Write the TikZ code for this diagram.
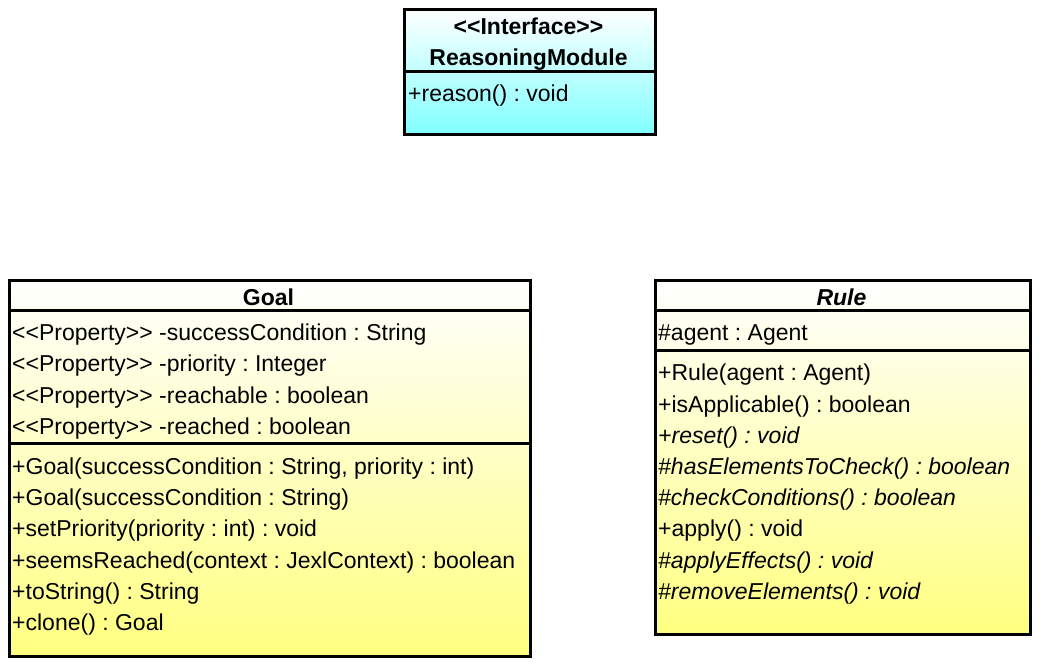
\documentclass[tikz,border=0pt]{standalone}
\usepackage{fontspec}
\setmainfont{Liberation Sans}[Ligatures=TeXOff]
\frenchspacing
\definecolor{ifacefill}{RGB}{128,255,255}
\definecolor{classfill}{RGB}{255,255,128}
\newcommand{\stereo}[1]{<<#1>>}
\tikzset{
  classbox/.style={draw, line width=3pt, inner sep=0pt, anchor=north west, top color=white},
  member/.style={anchor=base west, inner sep=0pt, font=\fontsize{23}{27}\selectfont},
  abstract/.style={member, font=\fontsize{23}{27}\selectfont\itshape},
  title/.style={anchor=base, inner sep=0pt, font=\fontsize{23}{27}\selectfont\bfseries},
  sep/.style={line width=3pt}
}
\begin{document}
\begin{tikzpicture}[x=1pt,y=-1pt]
\useasboundingbox (0,0) rectangle (1042,667);
% interface
\node[classbox, bottom color=ifacefill, minimum width=251pt, minimum height=125pt] (iface) at (403,8) {};
\draw[sep] (iface.west |- 0,71) -- (iface.east |- 0,71);
\node[title] (ifacest) at (528.5,34) {\stereo{Interface}};
\node[title] (ifacename) at (528.5,65) {ReasoningModule};
\node[member] (reason) at (408,101) {+reason() : void};
% goal
\node[classbox, bottom color=classfill, minimum width=521pt, minimum height=376pt] (goal) at (8,279) {};
\draw[sep] (goal.west |- 0,310) -- (goal.east |- 0,310);
\draw[sep] (goal.west |- 0,443) -- (goal.east |- 0,443);
\node[title] (goalname) at (268.5,305) {Goal};
\node[member] (g1) at (12,340) {\stereo{Property} -successCondition : String};
\node[member] (g2) at (12,371) {\stereo{Property} -priority : Integer};
\node[member] (g3) at (12,403) {\stereo{Property} -reachable : boolean};
\node[member] (g4) at (12,434) {\stereo{Property} -reached : boolean};
\node[member] (g5) at (12,474) {+Goal(successCondition : String, priority : int)};
\node[member] (g6) at (12,505) {+Goal(successCondition : String)};
\node[member] (g7) at (12,536) {+setPriority(priority : int) : void};
\node[member] (g8) at (12,568) {+seemsReached(context : JexlContext) : boolean};
\node[member] (g9) at (12,599) {+toString() : String};
\node[member] (g10) at (12,630) {+clone() : Goal};
% rule
\node[classbox, bottom color=classfill, minimum width=375pt, minimum height=354pt] (rule) at (654,279) {};
\draw[sep] (rule.west |- 0,310) -- (rule.east |- 0,310);
\draw[sep] (rule.west |- 0,350) -- (rule.east |- 0,350);
\node[title, font=\fontsize{23}{27}\selectfont\bfseries\itshape] (rulename) at (841.5,305) {Rule};
\node[member] (r1) at (658,340) {\#agent : Agent};
\node[member] (r2) at (658,380) {+Rule(agent : Agent)};
\node[member] (r3) at (658,412) {+isApplicable() : boolean};
\node[abstract] (r4) at (658,443) {+reset() : void};
\node[abstract] (r5) at (658,474) {\#hasElementsToCheck() : boolean};
\node[abstract] (r6) at (658,505) {\#checkConditions() : boolean};
\node[member] (r7) at (658,536) {+apply() : void};
\node[abstract] (r8) at (658,568) {\#applyEffects() : void};
\node[abstract] (r9) at (658,599) {\#removeElements() : void};
\end{tikzpicture}
\end{document}
